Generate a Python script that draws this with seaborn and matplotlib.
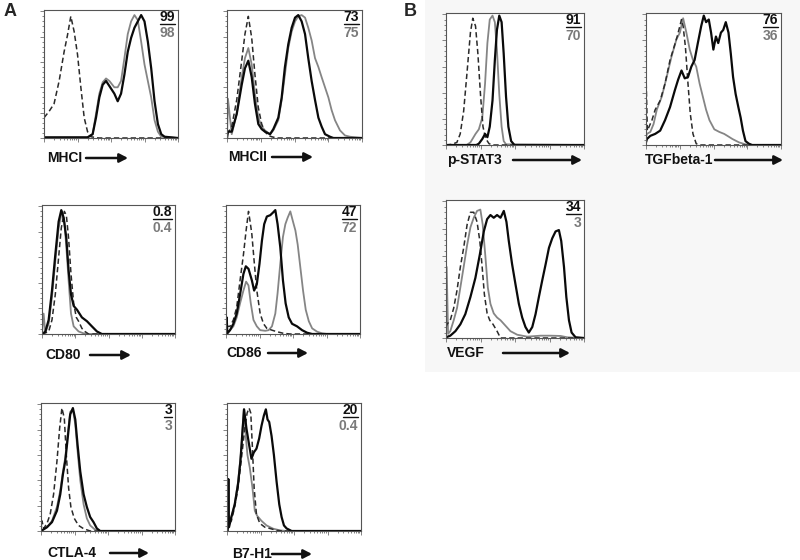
import numpy as np
import pandas as pd
import matplotlib
matplotlib.use("Agg")
import matplotlib.pyplot as plt
from matplotlib.lines import Line2D
import seaborn as sns

sns.set_theme(style="white")
plt.rcParams["font.family"] = ["Liberation Sans", "DejaVu Sans"]

# ---------------- data (x: % of log axis, y: % of max) ----------------
# MHCI
mhci_iso_x = [0, 3.8, 7.5, 11.3, 15, 17.5, 20, 22.5, 25, 27.5, 30, 32.5, 35, 41, 100]
mhci_iso_y = [16, 21, 27, 45, 68, 81, 96, 84, 66, 40, 16, 5, 1, 0, 0]
mhci_gray_x = [0, 32.5, 36.3, 38.8, 41.3, 43.8, 46.3, 48.8, 52.5, 55, 57.5, 60, 62.5, 65, 67.5, 70, 72.5, 75, 77.5, 80, 82.5, 85, 87.5, 100]
mhci_gray_y = [0.5, 0.5, 3, 19, 35, 44, 47, 45, 40, 40, 45, 63, 82, 92, 97, 93, 76, 58, 45, 32, 14, 5, 1, 0]
mhci_black_x = [0, 32.5, 36.3, 38.8, 41.3, 43.8, 46.3, 48.8, 52.5, 55, 57.5, 60, 62.5, 65, 67.5, 70, 72.5, 75, 77.5, 80, 82.5, 85, 87.5, 90, 100]
mhci_black_y = [0.5, 0.5, 3, 16, 32, 42, 45, 41, 35, 29, 35, 50, 68, 79, 87, 92, 97, 92, 76, 55, 29, 11, 3, 1, 0]
mhci_pct = ["99", "98"]

# MHCII
mhcii_iso_x = [0, 3.5, 7.2, 10.9, 13.3, 15.8, 18.3, 20.7, 23.2, 25.7, 28.1, 30.6, 33.1, 36.8, 100]
mhcii_iso_y = [3, 9, 30, 61, 82, 96, 79, 50, 24, 11, 5, 2, 1, 0, 0]
mhcii_gray_x = [0, 0.7, 3.5, 7.2, 10.9, 13.3, 15.8, 18.3, 20.7, 23.2, 25.7, 28.1, 31.9, 34.3, 38, 40.5, 42.9, 45.4, 47.9, 50.4, 52.8, 55.3, 57.8, 60.2, 62.7, 65.2, 67.7, 70.1, 72.6, 75.1, 77.5, 80, 83.7, 87.4, 91.1, 100]
mhcii_gray_y = [0, 31, 3, 19, 48, 63, 71, 58, 35, 16, 9, 6, 3, 6, 14, 30, 50, 71, 84, 92, 96, 97, 95, 87, 77, 63, 56, 48, 40, 32, 22, 14, 6, 2, 1, 0]
mhcii_black_x = [0, 0.7, 3.5, 7.2, 10.9, 13.3, 15.8, 18.3, 20.7, 23.2, 25.7, 28.1, 31.9, 34.3, 38, 40.5, 42.9, 45.4, 47.9, 50.4, 52.8, 55.3, 57.8, 60.2, 62.7, 65.2, 67.7, 70.1, 72.6, 76.3, 78.8, 100]
mhcii_black_y = [0, 5, 5, 19, 42, 55, 61, 48, 27, 11, 7, 5, 3, 7, 16, 32, 56, 74, 87, 95, 97, 92, 82, 63, 45, 30, 16, 9, 3, 1, 0, 0]
mhcii_pct = ["73", "75"]

# CD80
cd80_iso_x = [0, 5, 7.5, 10, 12.5, 14.5, 16.8, 18.3, 20, 21.8, 23.8, 25.8, 27.5, 30, 32.5, 35, 100]
cd80_iso_y = [0, 1.8, 11, 31, 60, 83, 96, 93, 75, 47, 24, 13, 10, 4.4, 1.8, 0, 0]
cd80_gray_x = [0, 1.2, 2.5, 5, 7.5, 10, 12.5, 15, 16.8, 18.3, 20, 21.8, 23.8, 27.5, 31.3, 35, 100]
cd80_gray_y = [0, 16, 1, 8, 29, 57, 83, 96, 88, 68, 42, 16, 6, 2, 0.5, 0, 0]
cd80_black_x = [0, 2.5, 5, 7.5, 10, 12.5, 14.5, 16.3, 18.3, 20, 21.8, 23.8, 26.3, 30, 33.8, 37.5, 41.3, 45, 100]
cd80_black_y = [0, 1.8, 11, 34, 62, 88, 97, 91, 75, 50, 31, 22, 19, 13, 10, 6, 2, 0, 0]
cd80_pct = ["0.8", "0.4"]

# CD86
cd86_iso_x = [0, 3, 5.5, 8, 10.5, 13, 15, 16.8, 18, 19.3, 21, 23, 25.5, 28, 30.5, 34.3, 38, 43, 48, 100]
cd86_iso_y = [6, 6, 11, 21, 42, 62, 81, 96, 88, 78, 57, 34, 16, 8, 4.4, 3, 1.8, 0.5, 0, 0]
cd86_gray_x = [0, 3, 5.5, 8, 10.5, 13, 15, 16.8, 18.5, 20.5, 23, 25.5, 29.3, 31.8, 34.3, 36.8, 38.5, 40.5, 42.5, 44.3, 46, 48, 50, 51.8, 53.5, 55.5, 57.5, 59.5, 61.8, 64.3, 68, 71.8, 75.5, 100]
cd86_gray_y = [0, 3, 6, 13, 24, 34, 41, 38, 24, 11, 6, 3, 2.5, 3, 6, 16, 32, 55, 76, 86, 91, 96, 88, 81, 70, 52, 34, 19, 10, 4.4, 1.8, 0.5, 0, 0]
cd86_black_x = [0, 0.5, 1, 3, 5.5, 8, 10.5, 13, 14.8, 16.8, 19.3, 21, 23, 25, 26.8, 28.5, 30.5, 33, 35, 36.8, 38.5, 40.5, 42.5, 44.5, 46.8, 49.3, 53, 56.8, 60.5, 64.3, 100]
cd86_black_y = [0, 13, 0.5, 3, 8, 16, 31, 47, 53, 51, 42, 34, 39, 55, 73, 86, 92, 93, 95, 97, 86, 68, 42, 24, 13, 8, 6, 3, 1, 0, 0]
cd86_pct = ["47", "72"]

# CTLA-4
ctla4_iso_x = [0, 0.7, 2, 4.5, 6.9, 9.4, 11.9, 13.9, 15.6, 17.4, 18.9, 20.6, 22.3, 24.8, 28, 31.8, 36.7, 100]
ctla4_iso_y = [0, 8, 2, 6, 13.5, 29, 55, 81, 97, 89, 60, 34, 19, 10, 4.4, 1.8, 0, 0]
ctla4_gray_x = [0, 4.5, 8.2, 11.9, 14.4, 16.4, 18.1, 19.9, 21.8, 23.8, 25.6, 27.3, 29.3, 31.8, 34.2, 36.7, 40.4, 44.2, 100]
ctla4_gray_y = [0, 3, 8, 19, 32, 47, 58, 76, 94, 96, 84, 63, 40, 21, 10, 4.4, 1, 0, 0]
ctla4_black_x = [0, 4.5, 8.2, 11.9, 14.4, 16.4, 18.1, 19.9, 21.8, 23.8, 25.6, 27.3, 29.3, 31.8, 34.2, 36.7, 39.2, 41.7, 44.2, 100]
ctla4_black_y = [0, 3, 7, 16, 29, 45, 55, 73, 92, 97, 88, 68, 47, 29, 19, 11, 7, 2, 0, 0]
ctla4_pct = ["3", "3"]

# B7-H1
b7h1_iso_x = [0, 0.75, 3.25, 5.75, 8.25, 10.75, 13.25, 15, 16.5, 17.75, 19, 20.25, 22, 24.5, 28.25, 32, 37, 42, 100]
b7h1_iso_y = [0, 4.4, 8, 19, 34, 57, 81, 93, 97, 93, 65, 34, 13, 6, 3, 2, 0.5, 0, 0]
b7h1_gray_x = [0, 0.75, 3.25, 5.75, 8.25, 10.75, 12.5, 14, 15.25, 17, 19, 20.75, 22.5, 25.75, 29.5, 34.5, 39.5, 44.5, 100]
b7h1_gray_y = [0, 5.7, 11, 21, 39, 65, 96, 75, 60, 50, 34, 16, 12, 8, 4.4, 1.8, 0.5, 0, 0]
b7h1_black_x = [0, 0.5, 1, 1.5, 3.25, 5.75, 8.25, 10, 11.5, 12.75, 14.5, 16.5, 18.25, 20, 22, 24, 25.75, 27.5, 29, 30.25, 31.5, 33.25, 35, 37, 39, 40.75, 42.5, 44.5, 48.25, 100]
b7h1_black_y = [0, 0, 41, 3, 11, 21, 37, 55, 78, 96, 81, 68, 57, 62, 65, 73, 83, 91, 96, 88, 86, 75, 60, 39, 21, 11, 4.4, 2, 0, 0]
b7h1_pct = ["20", "0.4"]

# p-STAT3
pstat3_iso_x = [0, 4.2, 7.9, 10.3, 12.8, 15.2, 17.7, 19.4, 21.4, 23.1, 25.1, 26.8, 28.7, 31.2, 33.7, 100]
pstat3_iso_y = [0, 0.5, 2, 8.5, 26, 55, 86, 97, 91, 70, 37, 14, 5, 1, 0, 0]
pstat3_gray_x = [0, 15, 17.7, 21.4, 23.8, 26.3, 28.3, 30, 31.7, 33.7, 35.4, 36.9, 38.6, 40.3, 41.8, 43.5, 100]
pstat3_gray_y = [0, 0, 2, 8.5, 12, 21, 47, 78, 96, 99, 94, 73, 39, 14, 3, 0.5, 0]
pstat3_black_x = [0, 22, 23.8, 26.3, 28.3, 30, 31.7, 33.7, 35.4, 36.9, 38.6, 40.3, 41.8, 43.5, 45.2, 47.2, 49.6, 100]
pstat3_black_y = [0, 0, 1, 4.6, 8.5, 6, 14, 34, 65, 88, 99, 94, 70, 37, 14, 3, 0, 0]
pstat3_pct = ["91", "70"]

# TGFbeta-1
tgfb_iso_x = [0, 1.0, 4.4, 6.8, 10.5, 14.1, 17.8, 20.2, 23.1, 26.3, 27.5, 29.2, 31.1, 32.8, 34.8, 37.2, 39.7, 100]
tgfb_iso_y = [54, 11, 19, 27, 34, 47, 65, 73, 83, 96, 91, 75, 47, 24, 8.5, 1, 0, 0]
tgfb_gray_x = [0, 0.7, 3.2, 5.6, 8, 11.7, 15.3, 19, 22.6, 25.1, 27.5, 29.9, 32.4, 34.8, 37.2, 39.7, 42.1, 44.5, 47, 50.6, 54.3, 57.9, 60.3, 64, 68.9, 73.7, 78.6, 100]
tgfb_gray_y = [6, 8.5, 10, 16, 27, 37, 52, 68, 81, 86, 97, 86, 73, 65, 60, 47, 37, 27, 19, 12, 10, 8.5, 7, 4.6, 2, 0.5, 0, 0]
tgfb_black_x = [0, 0.7, 3.2, 6.8, 10.5, 14.1, 17.8, 21.4, 23.8, 26.3, 28.7, 31.1, 33.6, 36, 38.4, 40.9, 42.8, 44.5, 46.5, 48.2, 49.9, 51.8, 53.5, 55.5, 57.2, 59.1, 61.1, 62.8, 64.5, 66.4, 68.4, 70.1, 71.8, 73.7, 76.2, 78.6, 100]
tgfb_black_y = [2, 4.6, 7, 8.5, 11, 19, 29, 42, 50, 57, 51, 52, 60, 65, 78, 91, 99, 94, 96, 86, 73, 83, 78, 86, 88, 94, 86, 70, 52, 39, 29, 21, 11, 3, 1, 0, 0]
tgfb_pct = ["76", "36"]

# VEGF
vegf_iso_x = [0, 0.7, 3.1, 5.6, 8, 10.4, 12.8, 15.3, 17.7, 20.1, 22.5, 24.5, 26.2, 27.8, 29.8, 31.7, 34.1, 37, 39.5, 100]
vegf_iso_y = [8, 10, 13, 22, 35, 52, 66, 83, 92, 92, 85, 71, 52, 32, 18, 13, 10, 5, 0, 0]
vegf_gray_x = [0, 0.5, 1.5, 3.1, 5.6, 8, 10.4, 12.8, 15.3, 17.7, 20.1, 22.5, 24.9, 26.6, 28.6, 30.3, 32.2, 34.6, 37, 39.5, 43.1, 46.7, 51.6, 58.8, 68.5, 75.8, 83, 87.9, 100]
vegf_gray_y = [0, 52, 3, 5, 13, 22, 37, 52, 68, 81, 88, 93, 94, 83, 59, 37, 25, 18, 15, 13, 9, 5, 2.4, 1, 1.7, 1.7, 1.5, 0.5, 0]
vegf_black_x = [0, 3.1, 6.8, 10.4, 14, 17.7, 21.3, 24.5, 27.4, 29.8, 32.2, 34.6, 37, 39.5, 41.9, 43.8, 45.5, 47.9, 50.4, 52.8, 55.2, 57.6, 60, 62.5, 64.9, 67.3, 69.7, 72.2, 74.6, 77, 79.4, 81.8, 83.5, 85.5, 87.2, 89.1, 91, 93.9, 100]
vegf_black_y = [0.5, 1.7, 5, 10, 17.5, 30, 44, 61, 78, 87, 90, 88, 90, 88, 93, 85, 71, 54, 39, 25, 15, 8, 4, 8, 17.5, 30, 42, 54, 66, 73, 78, 79, 71, 52, 30, 13, 4, 0.5, 0]
vegf_pct = ["34", "3"]

# ---------------- layout (pixels in an 800x560 canvas) ----------------
W, H = 800, 560
fig = plt.figure(figsize=(8, 5.6), dpi=100)
fig.patch.set_facecolor("white")

def fx(x):
    return x / W

def fy(y):
    return 1 - y / H

panels = [
    # name, box (left, top, right, bottom), label pos (x, y), arrow (x0, x1), data, pct
    ("MHCI", (44, 10, 178, 138), (47, 158), (86, 128),
     (mhci_iso_x, mhci_iso_y, mhci_gray_x, mhci_gray_y, mhci_black_x, mhci_black_y), mhci_pct),
    ("MHCII", (227, 10, 362, 138), (228, 157), (272, 313),
     (mhcii_iso_x, mhcii_iso_y, mhcii_gray_x, mhcii_gray_y, mhcii_black_x, mhcii_black_y), mhcii_pct),
    ("CD80", (42, 205, 175, 334), (45, 355), (90, 131),
     (cd80_iso_x, cd80_iso_y, cd80_gray_x, cd80_gray_y, cd80_black_x, cd80_black_y), cd80_pct),
    ("CD86", (226, 205, 360, 334), (226, 353), (268, 308),
     (cd86_iso_x, cd86_iso_y, cd86_gray_x, cd86_gray_y, cd86_black_x, cd86_black_y), cd86_pct),
    ("CTLA-4", (41, 403, 175, 531), (47, 553), (110, 149),
     (ctla4_iso_x, ctla4_iso_y, ctla4_gray_x, ctla4_gray_y, ctla4_black_x, ctla4_black_y), ctla4_pct),
    ("B7-H1", (227, 403, 361, 531), (232, 554), (272, 312),
     (b7h1_iso_x, b7h1_iso_y, b7h1_gray_x, b7h1_gray_y, b7h1_black_x, b7h1_black_y), b7h1_pct),
    ("p-STAT3", (446, 13, 584, 145), (447, 160), (513, 582),
     (pstat3_iso_x, pstat3_iso_y, pstat3_gray_x, pstat3_gray_y, pstat3_black_x, pstat3_black_y), pstat3_pct),
    ("TGFbeta-1", (646, 13, 781, 145), (645, 160), (715, 783),
     (tgfb_iso_x, tgfb_iso_y, tgfb_gray_x, tgfb_gray_y, tgfb_black_x, tgfb_black_y), tgfb_pct),
    ("VEGF", (446, 200, 584, 338), (447, 353), (503, 570),
     (vegf_iso_x, vegf_iso_y, vegf_gray_x, vegf_gray_y, vegf_black_x, vegf_black_y), vegf_pct),
]

# faint grey background of the pasted panel B image (behind everything)
fig.patches.append(plt.Rectangle((fx(425), fy(372)), fx(800) - fx(425), fy(0) - fy(372),
                                 transform=fig.transFigure, facecolor="#f7f7f7",
                                 edgecolor="none", zorder=-5))

major_x = [0, 25, 50, 75, 100]
minor_x = [25 * (d + np.log10(k)) for d in range(4) for k in range(2, 10)]

texts_to_underline = []
for name, (l, t, r, b), (lx, ly), (a0, a1), data, pct in panels:
    ax = fig.add_axes([fx(l), fy(b), fx(r) - fx(l), fy(t) - fy(b)])
    ax.set_zorder(2)
    ax.set_facecolor("white")
    ix, iy, gx, gy, bx, by = data
    df_g = pd.DataFrame({"x": gx, "y": gy})
    df_i = pd.DataFrame({"x": ix, "y": iy})
    df_b = pd.DataFrame({"x": bx, "y": by})
    sns.lineplot(data=df_g, x="x", y="y", ax=ax, color="#858585", lw=1.3,
                 sort=False, estimator=None, legend=False)
    sns.lineplot(data=df_i, x="x", y="y", ax=ax, color="#2a2a2a", lw=1.1,
                 sort=False, estimator=None, legend=False, dashes=False,
                 linestyle=(0, (3.5, 2.0)))
    sns.lineplot(data=df_b, x="x", y="y", ax=ax, color="#0a0a0a", lw=1.6,
                 sort=False, estimator=None, legend=False)
    ax.set_xlim(0, 100)
    ax.set_ylim(0, 101)
    ax.set_xlabel("")
    ax.set_ylabel("")
    ax.set_xticks(major_x)
    ax.set_xticks(minor_x, minor=True)
    ax.set_yticks([0, 20, 40, 60, 80, 100])
    ax.set_yticks(list(range(0, 101, 4)), minor=True)
    ax.tick_params(which="both", bottom=True, left=True, top=False, right=False,
                   labelbottom=False, labelleft=False, direction="out",
                   color="#707070", width=0.6)
    ax.tick_params(which="major", length=3.0)
    ax.tick_params(which="minor", length=1.5)
    for sp in ax.spines.values():
        sp.set_color("#555555")
        sp.set_linewidth(0.8)

    # percentages
    t1 = fig.text(fx(r - 3), fy(t + 7), pct[0], ha="right", va="center",
                  fontsize=10, fontweight="bold", color="#111111", zorder=5)
    fig.text(fx(r - 3), fy(t + 23), pct[1], ha="right", va="center",
             fontsize=10, fontweight="bold", color="#7a7a7a", zorder=5)
    texts_to_underline.append((t1, t + 13.5))

    # axis label with arrow
    fig.text(fx(lx), fy(ly), name, ha="left", va="center", fontsize=10,
             fontweight="bold", color="#111111", zorder=5)
    fig.add_artist(matplotlib.patches.FancyArrowPatch(
        (fx(a0), fy(ly)), (fx(a1), fy(ly)), transform=fig.transFigure,
        arrowstyle="-|>,head_length=5,head_width=2.6", lw=1.8, color="#111111",
        shrinkA=0, shrinkB=0, zorder=5))

fig.text(fx(4), fy(12), "A", ha="left", va="center", fontsize=13, fontweight="bold")
fig.text(fx(404), fy(12), "B", ha="left", va="center", fontsize=13, fontweight="bold")

fig.canvas.draw()
renderer = fig.canvas.get_renderer()
for txt, uy in texts_to_underline:
    bb = txt.get_window_extent(renderer)
    fig.add_artist(Line2D([bb.x0 / W, bb.x1 / W], [fy(uy), fy(uy)],
                          transform=fig.transFigure, color="#111111", lw=1.0,
                          zorder=5))

fig.savefig("out.png", dpi=100, facecolor="white")
